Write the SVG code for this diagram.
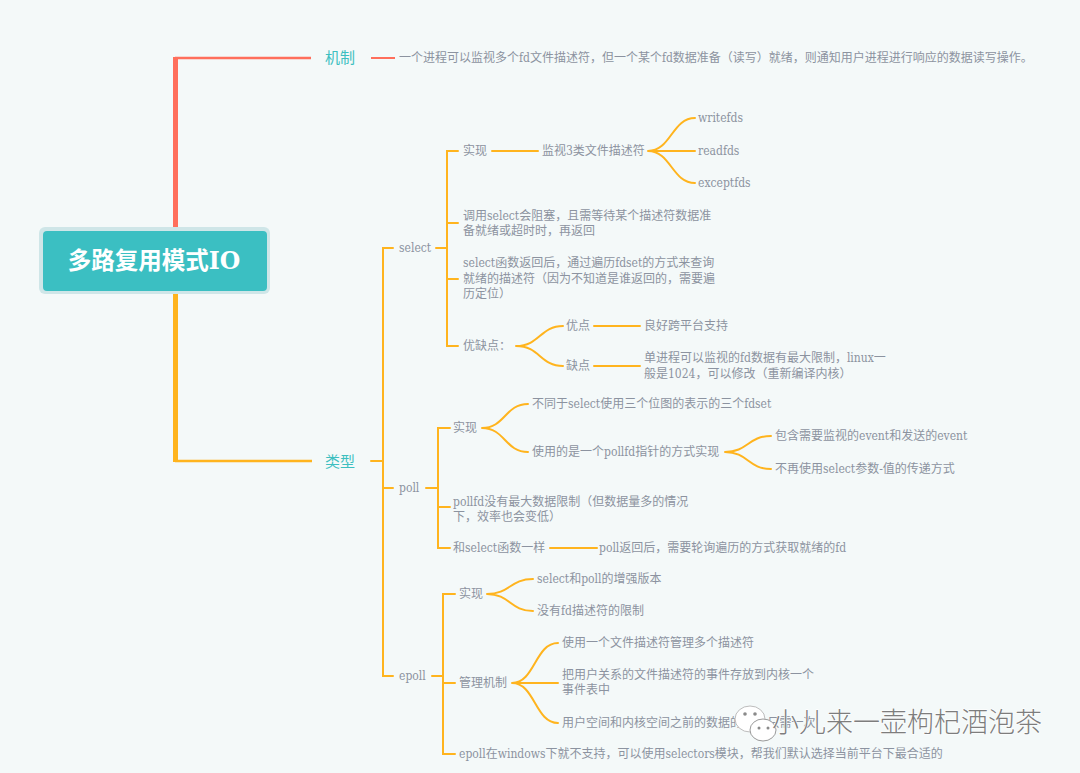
<svg xmlns="http://www.w3.org/2000/svg" width="1080" height="773" viewBox="0 0 1080 773">
<style>
.t{font-family:'DejaVu Serif Condensed','DejaVu Serif','Noto Sans CJK SC',serif;font-size:12px;fill:#8c93a0}
.k{font-family:'Noto Sans CJK SC',sans-serif;font-size:15px;fill:#3dbfc0}
.y{fill:none;stroke:#ffb41e;stroke-width:2;stroke-linecap:round}
.wm{font-family:'Noto Sans CJK SC',sans-serif;font-size:27px;font-weight:300;fill:#7d7d7d;stroke:#ffffff;stroke-width:1.2;paint-order:stroke}
</style>
<rect x="0" y="0" width="1080" height="773" fill="#f4f9f9"/>
<g id="connectors">
  <rect x="173" y="57" width="5" height="172" fill="#ff6f5c"/>
  <line x1="175" y1="58" x2="311" y2="58" stroke="#ff6f5c" stroke-width="2.5"/>
  <line x1="371" y1="58" x2="395" y2="58" stroke="#ff6f5c" stroke-width="2"/>
  <rect x="173" y="292" width="5" height="170" fill="#ffb41e"/>
  <line x1="175" y1="461" x2="312" y2="461" stroke="#ffb41e" stroke-width="2.5"/>
  <path class="y" d="M371 461 H383"/>
  <path class="y" d="M393 248 H383 V676 H393 M383 488 H393"/>
  <path class="y" d="M436 248 H447 M458 151 H447 V346 H458 M447 223 H458 M447 279 H458"/>
  <path class="y" d="M492 151 H538"/>
  <path class="y" d="M648 151 C671 151 672 118 695 118 M648 151 H695 M648 151 C671 151 672 183 695 183"/>
  <path class="y" d="M516 346 C540 346 540 326 563 326 M516 346 C540 346 540 366 563 366"/>
  <path class="y" d="M594 326 H640 M594 366 H640"/>
  <path class="y" d="M426 488 H438 M450 428 H438 V548 H450 M438 507 H450"/>
  <path class="y" d="M482 428 C505 428 505 404 528 404 M482 428 C505 428 505 452 528 452"/>
  <path class="y" d="M725 452 C748 452 748 436 771 436 M725 452 C748 452 748 469 771 469"/>
  <path class="y" d="M550 548 H597"/>
  <path class="y" d="M432 676 H443 M455 594 H443 V754 H455 M443 683 H455"/>
  <path class="y" d="M487 594 C510 594 510 579 533 579 M487 594 C510 594 510 611 533 611"/>
  <path class="y" d="M512 683 C535 683 535 643 558 643 M512 683 H558 M512 683 C535 683 535 723 558 723"/>
</g>
<g id="root">
  <rect x="39" y="227" width="231" height="67" rx="6" fill="#cfe6e8"/>
  <rect x="43" y="231" width="224" height="60" rx="4" fill="#3bbfc2"/>
  <text x="154" y="268.5" text-anchor="middle" font-family="'DejaVu Serif','Noto Sans CJK SC',serif" font-size="23.5" font-weight="bold" fill="#ffffff">多路复用模式IO</text>
</g>
<g id="mechanism">
  <text class="k" x="325" y="63">机制</text>
  <text class="t" x="399" y="62">一个进程可以监视多个fd文件描述符，但一个某个fd数据准备（读写）就绪，则通知用户进程进行响应的数据读写操作。</text>
</g>
<g id="types"><text class="k" x="325" y="467">类型</text></g>
<g id="select">
  <text class="t" x="399" y="252">select</text>
  <text class="t" x="463" y="155">实现</text>
  <text class="t" x="542" y="155">监视3类文件描述符</text>
  <text class="t" x="698" y="122">writefds</text>
  <text class="t" x="698" y="155">readfds</text>
  <text class="t" x="698" y="187">exceptfds</text>
  <text class="t" x="463" y="220">调用select会阻塞，且需等待某个描述符数据准</text>
  <text class="t" x="463" y="235">备就绪或超时时，再返回</text>
  <text class="t" x="463" y="267">select函数返回后，通过遍历fdset的方式来查询</text>
  <text class="t" x="463" y="283">就绪的描述符（因为不知道是谁返回的，需要遍</text>
  <text class="t" x="463" y="298">历定位）</text>
  <text class="t" x="463" y="350">优缺点：</text>
  <text class="t" x="566" y="330">优点</text>
  <text class="t" x="644" y="330">良好跨平台支持</text>
  <text class="t" x="566" y="370">缺点</text>
  <text class="t" x="644" y="362">单进程可以监视的fd数据有最大限制，linux一</text>
  <text class="t" x="644" y="378">般是1024，可以修改（重新编译内核）</text>
</g>
<g id="poll">
  <text class="t" x="399" y="492">poll</text>
  <text class="t" x="453" y="432">实现</text>
  <text class="t" x="532" y="408">不同于select使用三个位图的表示的三个fdset</text>
  <text class="t" x="532" y="456">使用的是一个pollfd指针的方式实现</text>
  <text class="t" x="775" y="440">包含需要监视的event和发送的event</text>
  <text class="t" x="775" y="473">不再使用select参数-值的传递方式</text>
  <text class="t" x="453" y="506">pollfd没有最大数据限制（但数据量多的情况</text>
  <text class="t" x="453" y="521">下，效率也会变低）</text>
  <text class="t" x="453" y="552">和select函数一样</text>
  <text class="t" x="599" y="552">poll返回后，需要轮询遍历的方式获取就绪的fd</text>
</g>
<g id="epoll">
  <text class="t" x="399" y="680">epoll</text>
  <text class="t" x="459" y="598">实现</text>
  <text class="t" x="537" y="583">select和poll的增强版本</text>
  <text class="t" x="537" y="615">没有fd描述符的限制</text>
  <text class="t" x="459" y="687">管理机制</text>
  <text class="t" x="562" y="647">使用一个文件描述符管理多个描述符</text>
  <text class="t" x="562" y="679">把用户关系的文件描述符的事件存放到内核一个</text>
  <text class="t" x="562" y="694">事件表中</text>
  <text class="t" x="562" y="727">用户空间和内核空间之前的数据的copy只需一次</text>
  <text class="t" x="459" y="758">epoll在windows下就不支持，可以使用selectors模块，帮我们默认选择当前平台下最合适的</text>
</g>
<g id="watermark">
  <ellipse cx="750" cy="719" rx="15" ry="13" fill="#ffffff" stroke="#bdbdbd" stroke-width="1"/>
  <ellipse cx="763" cy="730" rx="13" ry="11" fill="#ffffff" stroke="#9a9a9a" stroke-width="1"/>
  <circle cx="745" cy="714" r="1.8" fill="#8a8a8a"/>
  <circle cx="755" cy="714" r="1.8" fill="#8a8a8a"/>
  <circle cx="759" cy="728" r="1.5" fill="#8a8a8a"/>
  <circle cx="768" cy="728" r="1.5" fill="#8a8a8a"/>
  <text class="wm" x="772" y="732">小儿来一壶枸杞酒泡茶</text>
</g>
</svg>
